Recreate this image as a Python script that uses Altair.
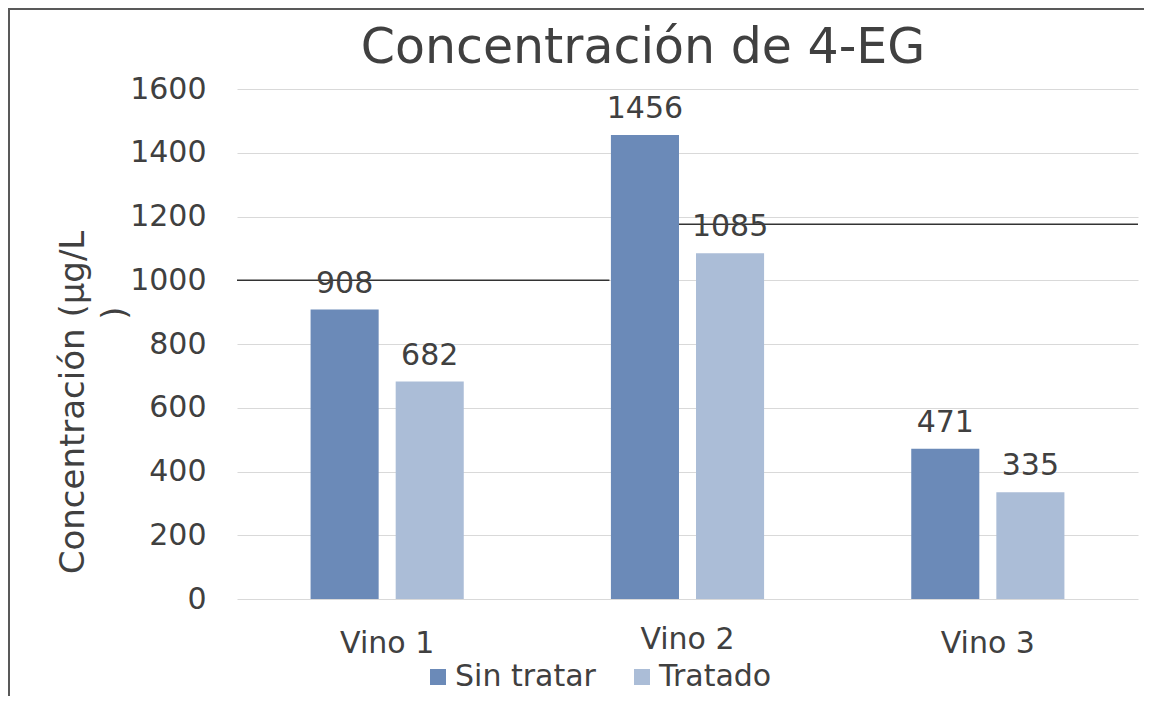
import altair as alt
import pandas as pd

vinos = ["Vino 1", "Vino 2", "Vino 3"]
sin_tratar = [908, 1456, 471]
tratado = [682, 1085, 335]
series = ["Sin tratar", "Tratado"]
colors = ["#6b8ab8", "#abbdd7"]
chart_title = "Concentración de 4-EG"

# reference lines (value, start, end in category-band units)
ref_values = [1000, 1176]
ref_start = [0.0, 1.45]
ref_end = [1.24, 3.0]

rows = []
for v, a, b in zip(vinos, sin_tratar, tratado):
    rows.append({"vino": v, "serie": series[0], "valor": a})
    rows.append({"vino": v, "serie": series[1], "valor": b})
df = pd.DataFrame(rows)
ref_df = pd.DataFrame({"y": ref_values, "x0": ref_start, "x1": ref_end})

FONT = "DejaVu Sans"
TXT = "#404040"

xscale = alt.Scale(paddingInner=0.49, paddingOuter=0.245)
yscale = alt.Scale(domain=[0, 1600])

base = alt.Chart(df)

bars = base.mark_bar().encode(
    x=alt.X("vino:N", scale=xscale, sort=vinos,
            axis=alt.Axis(title=None, labelAngle=0, domain=False, ticks=False, tickSize=0, grid=False,
                          labelFontSize=30, labelColor=TXT, labelFont=FONT,
                          labelPadding={"condition": {"test": "datum.value === 'Vino 2'", "value": 25},
                                        "value": 29})),
    xOffset=alt.XOffset("serie:N", sort=series, scale=alt.Scale(paddingInner=0.2, paddingOuter=0)),
    y=alt.Y("valor:Q", scale=yscale,
            axis=alt.Axis(values=list(range(0, 1601, 200)), format="d", grid=True, gridColor="#d9d9d9",
                          domain=False, ticks=False, tickSize=0, labelPadding=31,
                          labelFontSize=30, labelColor=TXT, labelFont=FONT,
                          title="Concentración  (µg/L",
                          titleFontSize=34, titleFont=FONT, titleColor=TXT,
                          titleFontWeight="normal", titleAngle=270, titleAlign="center",
                          titleBaseline="alphabetic", titleX=-154, titleY=313)),
    color=alt.Color("serie:N", sort=series,
                    scale=alt.Scale(domain=series, range=colors),
                    legend=alt.Legend(title=None, orient="none", direction="horizontal",
                                      legendX=186, legendY=573, symbolType="square",
                                      symbolSize=256, symbolStrokeWidth=0,
                                      labelFontSize=30, labelColor=TXT, labelFont=FONT,
                                      labelOffset=2, columnPadding=31)),
)

labels = base.mark_text(baseline="alphabetic", dy=-17, fontSize=30, font=FONT, color=TXT).encode(
    x=alt.X("vino:N", scale=xscale, sort=vinos, axis=None),
    xOffset=alt.XOffset("serie:N", sort=series, scale=alt.Scale(paddingInner=0.2, paddingOuter=0)),
    y=alt.Y("valor:Q", scale=yscale),
    text=alt.Text("valor:Q"),
)

refs = alt.Chart(ref_df).mark_rule(color="#333333", strokeWidth=1.5).encode(
    x=alt.X("x0:Q", scale=alt.Scale(domain=[0, 3], nice=False, zero=False), axis=None),
    x2="x1:Q",
    y=alt.Y("y:Q", scale=yscale),
)

# closing parenthesis of the y-axis title (wrapped onto a second line in the original)
paren = alt.Chart(alt.Data(values=[{"t": ")"}])).mark_text(
    fontSize=34, font=FONT, color=TXT, angle=270, align="center", baseline="middle"
).encode(x=alt.value(-121), y=alt.value(224), text="t:N")

title = alt.Chart(alt.Data(values=[{"t": chart_title}])).mark_text(
    fontSize=49, font=FONT, color=TXT, align="center", baseline="alphabetic"
).encode(x=alt.value(406), y=alt.value(-26), text="t:N")

border = alt.Chart(alt.Data(values=[{"a": 1}])).mark_rect(
    fill="transparent", stroke="#595959", strokeWidth=2
).encode(
    x=alt.value(-228), x2=alt.value(1200), y=alt.value(-80), y2=alt.value(700)
)

chart = alt.layer(border, refs, bars, labels, paren, title).resolve_scale(x="independent").properties(
    width=901, height=510,
    autosize="none",
    background="white",
    padding={"left": 229, "top": 81, "right": 6, "bottom": 97},
).configure_view(stroke="transparent", strokeWidth=0)

chart.save("out.html", embed_options={"renderer": "svg", "actions": False})
